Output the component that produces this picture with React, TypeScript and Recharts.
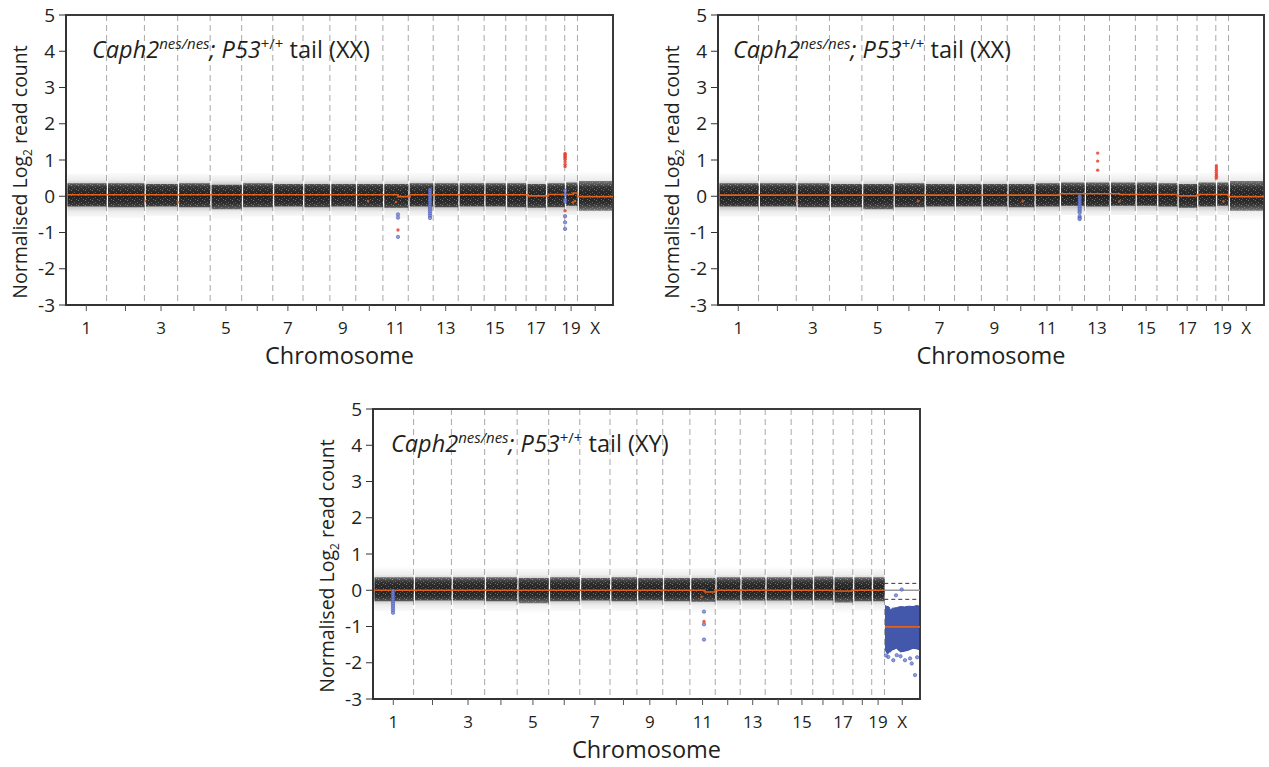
import React from 'react';
import {
  ComposedChart,
  Area,
  Line,
  Scatter,
  XAxis,
  YAxis,
  CartesianGrid,
  ReferenceArea,
  ReferenceLine,
} from 'recharts';

// ---------- genome layout (mm10, Mb) ----------
const chromosomes = ['1', '2', '3', '4', '5', '6', '7', '8', '9', '10', '11', '12', '13', '14', '15', '16', '17', '18', '19', 'X'];
const chromLengthsMb = [195.47, 182.11, 160.04, 156.51, 151.83, 149.74, 145.44, 129.4, 124.6, 130.69, 122.08, 120.13, 120.42, 124.9, 104.04, 98.21, 94.99, 90.7, 61.43, 171.03];
const xTickLabels = ['1', '', '3', '', '5', '', '7', '', '9', '', '11', '', '13', '', '15', '', '17', '', '19', 'X'];
const yTicks = [-3, -2, -1, 0, 1, 2, 3, 4, 5];
const leadingGapMb = 7;

const offsets: number[] = [];
chromLengthsMb.forEach((len, i) => offsets.push(i === 0 ? 0 : offsets[i - 1] + chromLengthsMb[i - 1]));
const genomeEnd = offsets[offsets.length - 1] + chromLengthsMb[chromLengthsMb.length - 1];
const centers = offsets.map((o, i) => o + chromLengthsMb[i] / 2);
const boundaries = offsets.slice(1);

// ---------- panel 1: Caph2 nes/nes; P53 +/+ tail (XX) ----------
const p1CoreHi = [0.36, 0.36, 0.34, 0.36, 0.32, 0.36, 0.34, 0.34, 0.34, 0.34, 0.34, 0.36, 0.36, 0.36, 0.36, 0.36, 0.34, 0.36, 0.38, 0.42];
const p1CoreLo = [-0.28, -0.3, -0.28, -0.3, -0.36, -0.3, -0.28, -0.3, -0.28, -0.3, -0.32, -0.28, -0.3, -0.28, -0.28, -0.3, -0.32, -0.3, -0.26, -0.4];
const p1FuzzHi = [0.62, 0.64, 0.6, 0.62, 0.58, 0.64, 0.6, 0.6, 0.62, 0.6, 0.62, 0.64, 0.62, 0.64, 0.62, 0.62, 0.6, 0.62, 0.64, 0.7];
const p1FuzzLo = [-0.56, -0.6, -0.54, -0.56, -0.64, -0.56, -0.54, -0.56, -0.54, -0.56, -0.6, -0.54, -0.56, -0.54, -0.54, -0.56, -0.6, -0.56, -0.52, -0.68];
const p1SegBreaks = [0, 1598.5, 1656, 2226, 2322, 2442, 2462.73, genomeEnd];
const p1SegLevels = [0.04, -0.01, 0.04, 0.01, 0.05, 0.09, -0.01];
const p1Blue: [number, number][] = [
  [1598.5, -0.5], [1598.5, -0.59], [1598.5, -1.12],
  [1752.6, 0.18], [1752.6, 0.12], [1752.6, 0.06], [1752.6, 0.0], [1752.6, -0.06], [1752.6, -0.12], [1752.6, -0.18],
  [1752.6, -0.24], [1752.6, -0.3], [1752.6, -0.36], [1752.6, -0.42], [1752.6, -0.48], [1752.6, -0.54], [1752.6, -0.6],
  [2403, 0.15], [2403, 0.04], [2403, -0.1], [2403, -0.15], [2403, -0.55], [2403, -0.72], [2403, -0.9],
];
const p1Red: [number, number][] = [
  [1598.5, -0.93],
  [2403, 1.18], [2403, 1.15], [2403, 1.12], [2403, 1.09], [2403, 1.06], [2403, 1.02], [2403, 0.95], [2403, 0.88], [2403, 0.82],
  [2403, -0.4],
];
const p1Orange: [number, number][] = [
  [380.4, -0.13], [539.3, -0.17], [1454, -0.13], [1589, -0.16], [2450.8, -0.13], [2441, -0.17],
];

// ---------- panel 2: Caph2 nes/nes; P53 +/+ tail (XX) ----------
const p2CoreHi = [0.36, 0.36, 0.36, 0.34, 0.34, 0.36, 0.34, 0.34, 0.34, 0.34, 0.36, 0.38, 0.38, 0.38, 0.38, 0.36, 0.34, 0.38, 0.38, 0.42];
const p2CoreLo = [-0.28, -0.28, -0.3, -0.3, -0.36, -0.3, -0.28, -0.28, -0.28, -0.3, -0.28, -0.26, -0.28, -0.26, -0.26, -0.28, -0.32, -0.28, -0.26, -0.4];
const p2FuzzHi = [0.62, 0.62, 0.62, 0.6, 0.6, 0.64, 0.6, 0.6, 0.62, 0.6, 0.62, 0.66, 0.64, 0.66, 0.64, 0.62, 0.6, 0.64, 0.64, 0.7];
const p2FuzzLo = [-0.56, -0.56, -0.58, -0.56, -0.66, -0.56, -0.54, -0.54, -0.54, -0.56, -0.54, -0.52, -0.54, -0.52, -0.52, -0.54, -0.6, -0.54, -0.52, -0.68];
const p2SegBreaks = [0, 1648, 1937, 2215.6, 2310.6, 2462.73, genomeEnd];
const p2SegLevels = [0.03, 0.07, 0.05, 0.01, 0.05, -0.01];
const p2Blue: [number, number][] = [
  [1744.5, 0.0], [1744.5, -0.05], [1744.5, -0.1], [1744.5, -0.15], [1744.5, -0.2], [1744.5, -0.25], [1744.5, -0.3],
  [1744.5, -0.35], [1744.5, -0.4], [1744.5, -0.45], [1744.5, -0.55], [1744.5, -0.6], [1744.5, -0.63],
];
const p2Red: [number, number][] = [
  [1831.5, 1.19], [1831.5, 0.97], [1831.5, 0.72],
  [2404, 0.84], [2404, 0.78], [2404, 0.72], [2404, 0.66], [2404, 0.6], [2404, 0.55], [2404, 0.5],
];
const p2Orange: [number, number][] = [
  [377, -0.13], [964.6, -0.14], [1470, -0.14], [1937, -0.14], [2438, -0.14],
];

// ---------- panel 3: Caph2 nes/nes; P53 +/+ tail (XY) ----------
const p3CoreHi = [0.36, 0.36, 0.36, 0.36, 0.34, 0.36, 0.34, 0.36, 0.34, 0.34, 0.34, 0.36, 0.36, 0.36, 0.36, 0.38, 0.36, 0.36, 0.36];
const p3CoreLo = [-0.3, -0.28, -0.28, -0.3, -0.36, -0.3, -0.28, -0.3, -0.28, -0.3, -0.32, -0.28, -0.28, -0.28, -0.28, -0.28, -0.34, -0.3, -0.3];
const p3FuzzHi = [0.64, 0.62, 0.62, 0.62, 0.6, 0.62, 0.62, 0.62, 0.62, 0.6, 0.62, 0.64, 0.62, 0.64, 0.66, 0.64, 0.62, 0.62, 0.6];
const p3FuzzLo = [-0.58, -0.56, -0.54, -0.58, -0.64, -0.58, -0.54, -0.58, -0.54, -0.56, -0.62, -0.54, -0.54, -0.54, -0.54, -0.54, -0.62, -0.56, -0.56];
const p3SegBreaks = [0, 1598.6, 1646.6, 2216, 2305, 2460, 2465, genomeEnd];
const p3SegLevels: (number | null)[] = [0.0, -0.05, 0.0, -0.02, 0.0, null, -1.01];
const p3Blue: [number, number][] = [
  [96.3, -0.02], [96.3, -0.08], [96.3, -0.14], [96.3, -0.2], [96.3, -0.26], [96.3, -0.32], [96.3, -0.38],
  [96.3, -0.44], [96.3, -0.5], [96.3, -0.56], [96.3, -0.62],
  [1593.7, -0.59], [1593.7, -0.94], [1593.7, -1.36],
  [2481.1, -1.84], [2505.2, -1.93], [2521.6, -1.79], [2561.5, -1.93], [2593.8, -2.02], [2609.7, -2.34], [2585.8, -1.88],
  [2518, -0.14], [2545.6, 0.02], [2470, -1.8], [2540, -1.82], [2620, -1.85],
];
const p3Red: [number, number][] = [[1593.7, -0.86]];
const p3Orange: [number, number][] = [[1582, -0.18]];
const p3XCloudX = [2465, 2472, 2480, 2486, 2491, 2500, 2520, 2540, 2560, 2580, 2600, 2620, 2633.7];
const p3XCloudHi = [-0.42, -0.44, -0.45, -0.47, -0.55, -0.5, -0.48, -0.45, -0.46, -0.44, -0.45, -0.42, -0.45];
const p3XCloudLo = [-1.6, -1.72, -1.75, -1.7, -1.7, -1.65, -1.6, -1.7, -1.68, -1.65, -1.6, -1.62, -1.65];
const p3XRefLevels = [0.19, 0, -0.25];

// ---------- helpers ----------
const FONT = "'Open Sans', 'Noto Sans', sans-serif";
const INK = '#231f20';
const ORANGE = '#e0621c';
const RED = '#e8412f';
const BLUE = '#4a5bb5';

function buildBand(hi: number[], lo: number[], fHi: number[], fLo: number[]) {
  const rows: any[] = [];
  hi.forEach((_, i) => {
    const s = offsets[i] + leadingGapMb;
    const e = offsets[i] + chromLengthsMb[i];
    rows.push({ x: s, core: [lo[i], hi[i]], fuzz: [fLo[i], fHi[i]] });
    rows.push({ x: e, core: [lo[i], hi[i]], fuzz: [fLo[i], fHi[i]] });
    rows.push({ x: e + 0.01, core: [null, null], fuzz: [null, null] });
  });
  return rows;
}

function buildSegments(breaks: number[], levels: (number | null)[]) {
  const rows: any[] = [];
  levels.forEach((lvl, i) => {
    rows.push({ x: breaks[i], y: lvl });
    rows.push({ x: breaks[i + 1], y: lvl });
  });
  return rows;
}

const toPts = (arr: [number, number][]) => arr.map(([x, y]) => ({ x, y }));

const dotShape = (fill: string, r: number, stroke?: string) => (props: any) =>
  props.cx == null ? <g /> : (
    <circle cx={props.cx} cy={props.cy} r={r} fill={fill} fillOpacity={0.85} stroke={stroke || 'none'} strokeWidth={0.6} />
  );

function YLabel(props: any) {
  const vb = props.viewBox || { x: 0, y: 0, width: 0, height: 0 };
  const x = vb.x + vb.width - 39;
  const y = vb.y + vb.height / 2 + 12;
  return (
    <text x={x} y={y} transform={`rotate(-90, ${x}, ${y})`} textAnchor="middle" fontFamily={FONT} fontSize={19.5} fill={INK}>
      Normalised Log
      <tspan fontSize={12} dy={5}>2</tspan>
      <tspan dy={-5}> read count</tspan>
    </text>
  );
}

function XLabel(props: any) {
  const vb = props.viewBox || { x: 0, y: 0, width: 0, height: 0 };
  return (
    <text x={vb.x + vb.width / 2} y={vb.y + 59} textAnchor="middle" fontFamily={FONT} fontSize={23.5} fill={INK}>
      Chromosome
    </text>
  );
}

function makeTitle(genotype: string, dx: number) {
  return (props: any) => {
    const vb = props.viewBox || { x: 0, y: 0 };
    return (
      <text x={vb.x + dx} y={vb.y + 43} fontFamily={FONT} fontSize={23.5} fill={INK}>
        <tspan fontStyle="italic">Caph2</tspan>
        <tspan fontStyle="italic" fontSize={15} dy={-9}>nes/nes</tspan>
        <tspan fontStyle="italic" dy={9}>; P53</tspan>
        <tspan fontSize={15} dy={-9}>+/+</tspan>
        <tspan dy={9}> tail ({genotype})</tspan>
      </text>
    );
  };
}

const tickLabel = (v: number) => {
  let best = 0;
  centers.forEach((c, i) => {
    if (Math.abs(c - v) < Math.abs(centers[best] - v)) best = i;
  });
  return xTickLabels[best];
};

type PanelProps = {
  uid: string;
  left: number;
  top: number;
  width: number;
  marginRight: number;
  genotype: string;
  titleDx: number;
  band: any[];
  segments: any[];
  blue: [number, number][];
  red: [number, number][];
  orange: [number, number][];
  extras?: React.ReactNode[];
};

function Panel(p: PanelProps) {
  return (
    <div style={{ position: 'absolute', left: p.left, top: p.top }}>
      <ComposedChart width={p.width} height={370} margin={{ top: 15, right: p.marginRight, bottom: 30, left: 6 }}>
        <defs>
          <linearGradient id={`fuzz-${p.uid}`} x1="0" y1="0" x2="0" y2="1">
            <stop offset="0%" stopColor="#000" stopOpacity={0} />
            <stop offset="18%" stopColor="#000" stopOpacity={0.07} />
            <stop offset="35%" stopColor="#000" stopOpacity={0.32} />
            <stop offset="65%" stopColor="#000" stopOpacity={0.32} />
            <stop offset="82%" stopColor="#000" stopOpacity={0.07} />
            <stop offset="100%" stopColor="#000" stopOpacity={0} />
          </linearGradient>
          <linearGradient id={`core-${p.uid}`} x1="0" y1="0" x2="0" y2="1">
            <stop offset="0%" stopColor="#161616" stopOpacity={0.5} />
            <stop offset="22%" stopColor="#161616" stopOpacity={0.82} />
            <stop offset="50%" stopColor="#161616" stopOpacity={0.93} />
            <stop offset="78%" stopColor="#161616" stopOpacity={0.82} />
            <stop offset="100%" stopColor="#161616" stopOpacity={0.5} />
          </linearGradient>
          <pattern id={`grain-${p.uid}`} width={7} height={5} patternUnits="userSpaceOnUse">
            <rect x={1} y={0} width={1} height={1} fill="#fff" fillOpacity={0.35} />
            <rect x={4} y={2} width={1} height={1} fill="#fff" fillOpacity={0.25} />
            <rect x={6} y={4} width={1} height={1} fill="#fff" fillOpacity={0.3} />
            <rect x={2} y={3} width={1} height={1} fill="#fff" fillOpacity={0.2} />
          </pattern>
        </defs>
        <CartesianGrid horizontal={false} vertical verticalValues={boundaries} stroke="#a8a8a8" strokeDasharray="6 4" />
        <XAxis
          dataKey="x"
          type="number"
          domain={[0, genomeEnd]}
          allowDataOverflow
          ticks={centers}
          interval={0}
          tickFormatter={tickLabel}
          tick={{ fontSize: 17, fill: INK, fontFamily: FONT }}
          tickSize={6}
          tickMargin={11}
          tickLine={{ stroke: '#555' }}
          axisLine={{ stroke: '#333', strokeWidth: 2 }}
          height={35}
          label={<XLabel />}
        />
        <YAxis
          type="number"
          domain={[-3, 5]}
          allowDataOverflow
          ticks={yTicks}
          interval={0}
          width={60}
          tick={{ fontSize: 19, fill: INK, fontFamily: FONT }}
          tickSize={7}
          tickMargin={4}
          tickLine={{ stroke: '#333' }}
          axisLine={{ stroke: '#333', strokeWidth: 2 }}
          label={<YLabel />}
        />
        <Area data={p.band} dataKey="fuzz" fill={`url(#fuzz-${p.uid})`} fillOpacity={1} stroke="none" isAnimationActive={false} connectNulls={false} />
        <Area data={p.band} dataKey="core" fill={`url(#core-${p.uid})`} fillOpacity={1} stroke="none" isAnimationActive={false} connectNulls={false} />
        <Area data={p.band} dataKey="core" fill={`url(#grain-${p.uid})`} fillOpacity={1} stroke="none" isAnimationActive={false} connectNulls={false} />
        {p.extras}
        <Line data={p.segments} dataKey="y" stroke={ORANGE} strokeWidth={1.6} dot={false} isAnimationActive={false} connectNulls={false} />
        <Scatter data={toPts(p.orange)} dataKey="y" shape={dotShape(ORANGE, 1.3)} isAnimationActive={false} />
        <Scatter data={toPts(p.blue)} dataKey="y" shape={dotShape('#7d8bd6', 1.7, BLUE)} isAnimationActive={false} />
        <Scatter data={toPts(p.red)} dataKey="y" shape={dotShape(RED, 1.7)} isAnimationActive={false} />
        <ReferenceArea
          x1={0}
          x2={genomeEnd}
          y1={-3}
          y2={5}
          fill="none"
          fillOpacity={0}
          stroke="#3a3a3a"
          strokeWidth={2}
          label={makeTitle(p.genotype, p.titleDx)}
        />
      </ComposedChart>
    </div>
  );
}

const p3CloudRows = p3XCloudX.map((x, i) => ({ x, range: [p3XCloudLo[i], p3XCloudHi[i]] }));

export default function App() {
  const p3Extras = [
    <Area key="xcloud" data={p3CloudRows} dataKey="range" fill="#3a4fa6" fillOpacity={0.95} stroke="#3a4fa6" strokeWidth={1} isAnimationActive={false} />,
    ...p3XRefLevels.map((lvl, i) => (
      <ReferenceLine
        key={`xr${i}`}
        segment={[{ x: offsets[19] - 1, y: lvl }, { x: genomeEnd, y: lvl }]}
        stroke={lvl === 0 ? '#999' : '#333'}
        strokeWidth={lvl === 0 ? 1.5 : 1}
        strokeDasharray={lvl === 0 ? undefined : '4 3'}
      />
    )),
  ];
  return (
    <div style={{ position: 'absolute', left: 0, top: 0, width: 1269, height: 767, overflow: 'hidden', background: '#fff' }}>
      <Panel
        uid="a"
        left={0}
        top={0}
        width={640}
        marginRight={27}
        genotype="XX"
        titleDx={26}
        band={buildBand(p1CoreHi, p1CoreLo, p1FuzzHi, p1FuzzLo)}
        segments={buildSegments(p1SegBreaks, p1SegLevels)}
        blue={p1Blue}
        red={p1Red}
        orange={p1Orange}
      />
      <Panel
        uid="b"
        left={652}
        top={0}
        width={615}
        marginRight={3}
        genotype="XX"
        titleDx={15}
        band={buildBand(p2CoreHi, p2CoreLo, p2FuzzHi, p2FuzzLo)}
        segments={buildSegments(p2SegBreaks, p2SegLevels)}
        blue={p2Blue}
        red={p2Red}
        orange={p2Orange}
      />
      <Panel
        uid="c"
        left={307}
        top={394}
        width={640}
        marginRight={27}
        genotype="XY"
        titleDx={18}
        band={buildBand(p3CoreHi, p3CoreLo, p3FuzzHi, p3FuzzLo)}
        segments={buildSegments(p3SegBreaks, p3SegLevels)}
        blue={p3Blue}
        red={p3Red}
        orange={p3Orange}
        extras={p3Extras}
      />
    </div>
  );
}
